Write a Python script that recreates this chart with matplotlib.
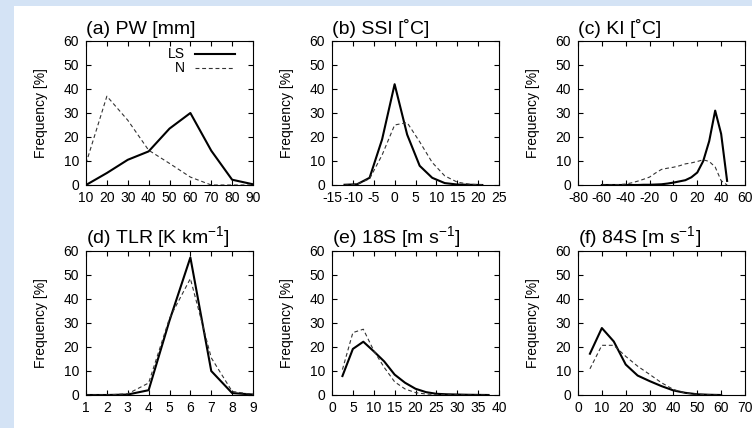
from matplotlib import pyplot as plt
from matplotlib.patches import Rectangle

plt.rcParams["font.family"] = ["Liberation Sans", "DejaVu Sans"]
plt.rcParams["mathtext.fontset"] = "custom"
plt.rcParams["mathtext.rm"] = "Liberation Sans"
plt.rcParams["axes.unicode_minus"] = False

# (a) precipitable water
pw_x = [10, 20, 30, 40, 50, 60, 70, 80, 90]
pw_ls = [0, 5, 10.5, 14, 23.5, 30, 14.3, 2.2, 0.3]
pw_n = [9, 37, 27, 14.5, 9, 3.3, 0, 0, 0]

# (b) showalter stability index
ssi_x = [-12, -9, -6, -3, 0, 3, 6, 9, 12, 15, 18, 21]
ssi_ls = [0.1, 0.3, 3, 19, 42, 21, 8, 3, 0.8, 0.2, 0.1, 0]
ssi_n = [0, 0.3, 2.6, 12.5, 25, 26, 18, 9.4, 3.8, 1.2, 0.3, 0.1]

# (c) K index
ki_x = [-60, -55, -50, -45, -40, -35, -30, -25, -20, -15, -10, -5,
        0, 5, 10, 15, 20, 25, 30, 35, 40, 45]
ki_ls = [0, 0, 0, 0, 0, 0, 0, 0.1, 0.1, 0.2, 0.3, 0.6,
         1.0, 1.5, 2.0, 3.2, 5.2, 10.0, 18.3, 31.0, 21.3, 1.7]
ki_n = [0, 0, 0.1, 0.2, 0.4, 0.9, 1.6, 2.4, 3.3, 5.0, 6.5, 7.0,
        7.4, 8.0, 8.8, 9.2, 9.8, 10.5, 9.8, 7.5, 1.8, 0]

# (d) temperature lapse rate
tlr_x = [1, 2, 3, 4, 5, 6, 7, 8, 9]
tlr_ls = [0, 0, 0.2, 2, 31, 57.3, 10, 0.8, 0.2]
tlr_n = [0, 0, 0.5, 5, 32, 48.5, 15.5, 1.5, 0.2]

# (e) 0-1 km shear
s18_x = [2.5, 5, 7.5, 10, 12.5, 15, 17.5, 20, 22.5, 25, 27.5, 30, 32.5, 35, 37.5]
s18_ls = [7.9, 19.2, 22.2, 18.2, 14, 8.5, 5.1, 2.6, 1.2, 0.5, 0.3, 0.2, 0.1, 0.05, 0]
s18_n = [10.6, 26, 27.4, 18.5, 11.5, 5.5, 2.5, 1.0, 0.4, 0.2, 0.1, 0.05, 0, 0, 0]

# (f) 0-4 km shear
s84_x = [5, 10, 15, 20, 25, 30, 35, 40, 45, 50, 55, 60]
s84_ls = [17.2, 27.9, 22.3, 12.7, 8.1, 5.8, 3.7, 1.9, 0.9, 0.3, 0.1, 0]
s84_n = [10.9, 20.7, 20.7, 16.1, 12, 8.6, 5.1, 2.3, 0.8, 0.3, 0.1, 0]

titles = ["(a) PW [mm]", "(b) SSI [\u02daC]", "(c) KI [\u02daC]",
          r"(d) TLR [K km$^{-1}$]", r"(e) 18S [m s$^{-1}$]", r"(f) 84S [m s$^{-1}$]"]
xlims = [(10, 90), (-15, 25), (-80, 60), (1, 9), (0, 40), (0, 70)]
xsteps = [10, 5, 20, 1, 5, 10]

panels = [(pw_x, pw_ls, pw_n), (ssi_x, ssi_ls, ssi_n), (ki_x, ki_ls, ki_n),
          (tlr_x, tlr_ls, tlr_n), (s18_x, s18_ls, s18_n), (s84_x, s84_ls, s84_n)]

fig = plt.figure(figsize=(7.52, 4.28), dpi=100)
fig.patch.set_facecolor("#d4e3f5")
fig.add_artist(Rectangle((14 / 752, 0), 1, 1 - 6 / 428, transform=fig.transFigure,
                         facecolor="white", edgecolor="none", zorder=0))

lefts = [86, 332, 578]
tops = [41, 251]
for i, (x, ls, n) in enumerate(panels):
    col, row = i % 3, i // 3
    ax = fig.add_axes([lefts[col] / 752, 1 - (tops[row] + 144) / 428, 167 / 752, 144 / 428])

    ax.plot(x, ls, color="black", lw=1.5, label="LS")
    ax.plot(x, n, color="#333333", lw=0.8, dashes=(3.5, 2.5), label="N")

    lo, hi = xlims[i]
    ax.set_xlim(lo, hi)
    ax.set_ylim(0, 60)
    ax.set_xticks(range(lo, hi + 1, xsteps[i]))
    ax.set_yticks(range(0, 61, 10))
    ax.tick_params(direction="in", top=True, right=True, length=3.5, width=0.8,
                   labelsize=10)
    ax.tick_params(axis="x", pad=4)
    ax.tick_params(axis="y", pad=5)
    for s in ax.spines.values():
        s.set_linewidth(0.8)

    ax.set_ylabel("Frequency [%]", fontsize=10, labelpad=11)
    ax.set_title(titles[i], loc="left", fontsize=14, pad=5)

    if i == 0:
        ax.legend(loc="upper right", bbox_to_anchor=(0.892, 0.955), frameon=False,
                  markerfirst=False, fontsize=10, handlelength=2.9,
                  handletextpad=0.7, labelspacing=0.0, borderpad=0,
                  borderaxespad=0)

plt.savefig("out.png", dpi=100, facecolor=fig.get_facecolor())
